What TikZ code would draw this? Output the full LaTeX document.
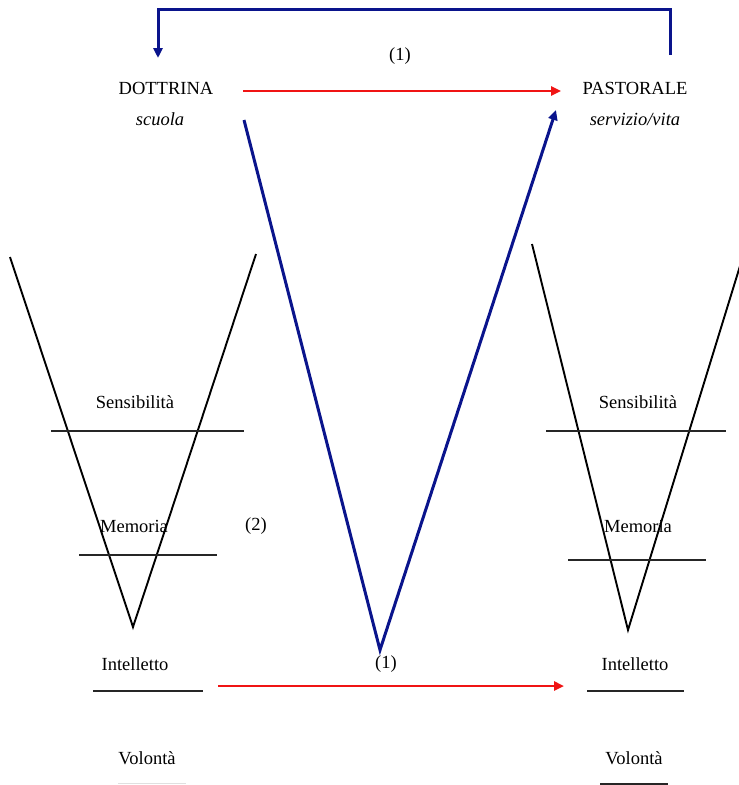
\documentclass[tikz,border=0pt]{standalone}
\usepackage{fontspec}
\setmainfont{Liberation Serif}
\usetikzlibrary{arrows.meta}
\definecolor{vblue}{RGB}{10,20,140}
\definecolor{vred}{RGB}{240,20,20}
\tikzset{
  lbl/.style={inner sep=0pt, font=\fontsize{18.5}{20}\selectfont},
  ilbl/.style={lbl, font=\fontsize{18.5}{20}\selectfont\itshape},
  bline/.style={draw=black!85, line width=1.7pt},
  vline/.style={draw=black, line width=1.9pt},
  blueline/.style={draw=vblue, line width=3pt},
  redarrow/.style={draw=vred, line width=2.4pt, -{Triangle[length=10pt,width=9pt]}},
  bluearrow/.style={blueline, -{Triangle[length=10pt,width=9pt]}},
}
\begin{document}
\begin{tikzpicture}[x=1pt,y=-1pt]
\useasboundingbox (0,0) rectangle (739,785);
\clip (0,0) rectangle (739,785);
% labels
\node[lbl] (dott) at (166,88) {DOTTRINA};
\node[ilbl] (scuola) at (160,119) {scuola};
\node[lbl] (past) at (635,88) {PASTORALE};
\node[ilbl] (serv) at (635,119) {servizio/vita};
\node[lbl] (one) at (400,56) {(1)};
\node[lbl] (oneb) at (386,664) {(1)};
\node[lbl] (two) at (256,526) {(2)};
\node[lbl] (lsens) at (135,402) {Sensibilità};
\node[lbl] (lmem) at (134,526) {Memoria};
\node[lbl] (lint) at (135,664) {Intelletto};
\node[lbl] (lvol) at (147,758) {Volontà};
\node[lbl] (rsens) at (638,402) {Sensibilità};
\node[lbl] (rmem) at (638,526) {Memoria};
\node[lbl] (rint) at (635,664) {Intelletto};
\node[lbl] (rvol) at (634,758) {Volontà};
% coordinates
\coordinate (t1) at (670,55);
\coordinate (t2) at (670,9);
\coordinate (t3) at (158,9);
\coordinate (t4) at (158,58);
\coordinate (ra1) at (243,91);
\coordinate (ra2) at (561,91);
\coordinate (v1) at (244,120);
\coordinate (v2) at (380,650);
\coordinate (v3) at (556,110);
\coordinate (rb1) at (218,686);
\coordinate (rb2) at (564,686);
\coordinate (lv1) at (10,257);
\coordinate (lv2) at (133,627);
\coordinate (lv3) at (256,254);
\coordinate (rv1) at (532,244);
\coordinate (rv2) at (628,630);
\coordinate (rv3) at (748,240);
% top loop
\draw[bluearrow] (t1) -- (t2) -- (t3) -- (t4);
\draw[redarrow] (ra1) -- (ra2);
% big blue V
\draw[bluearrow, line join=miter] (v1) -- (v2) -- (v3);
\draw[redarrow] (rb1) -- (rb2);
% left funnel
\draw[vline] (lv1) -- (lv2) -- (lv3);
\draw[bline] (51,431) -- (244,431);
\draw[bline] (79,555) -- (217,555);
\draw[bline] (93,691) -- (203,691);
\draw[draw=black!12, line width=1pt] (118,783) -- (186,783);
% right funnel
\draw[vline] (rv1) -- (rv2) -- (rv3);
\draw[bline] (546,431) -- (726,431);
\draw[bline] (568,560) -- (706,560);
\draw[bline] (587,691) -- (684,691);
\draw[bline] (600,784) -- (668,784);
\end{tikzpicture}
\end{document}
